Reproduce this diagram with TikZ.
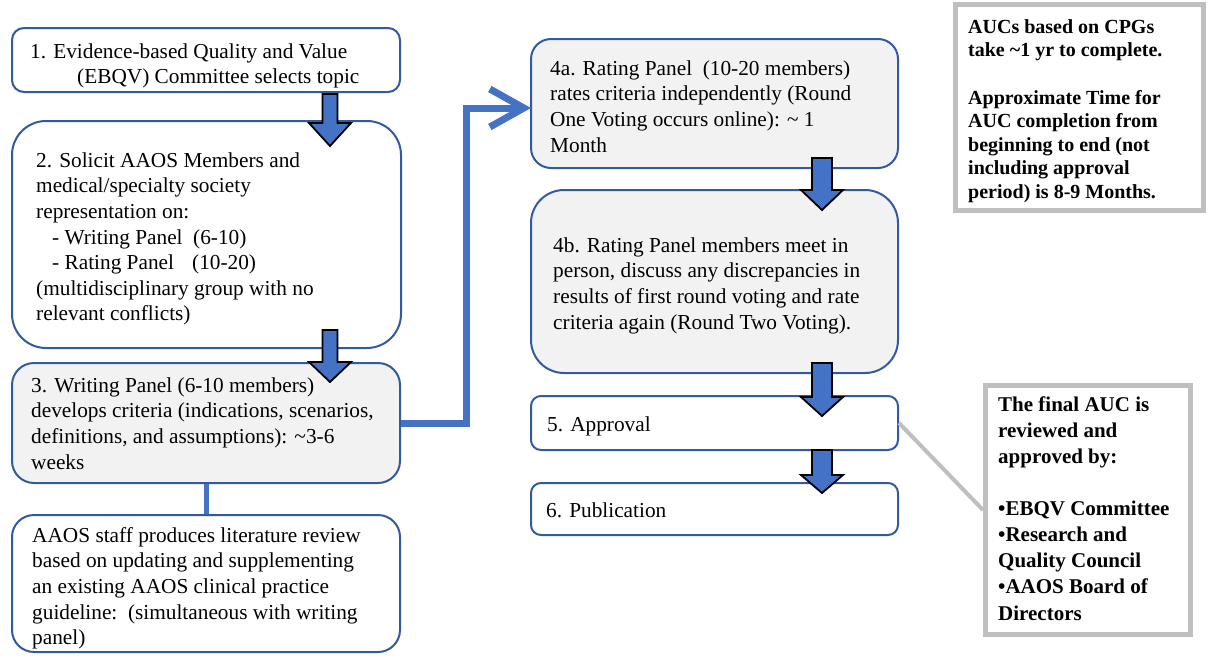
\documentclass[tikz,border=0pt]{standalone}
\usepackage{fontspec}
\setmainfont{LiberationSerif}[Extension=.ttf, UprightFont=*-Regular, BoldFont=*-Bold, ItalicFont=*-Italic, BoldItalicFont=*-BoldItalic]
\usetikzlibrary{arrows.meta}
\definecolor{boxblue}{RGB}{52,90,158}
\definecolor{lineblue}{RGB}{68,114,196}
\definecolor{boxgray}{RGB}{242,242,242}
\definecolor{notegray}{RGB}{191,191,191}
\newcommand\blkarrow[6]{\draw[barrow] ({#1-#5},#2) -- ({#1+#5},#2) -- ({#1+#5},#3) -- ({#1+#6},#3) -- (#1,#4) -- ({#1-#6},#3) -- ({#1-#5},#3) -- cycle;}
\newcommand\st{\rule{0pt}{16pt}}
\begin{document}
\begin{tikzpicture}[x=1pt,y=-1pt,
  stepbox/.style={draw=boxblue, line width=2pt, inner sep=0pt, fill=white},
  graybox/.style={stepbox, fill=boxgray},
  notebox/.style={draw=notegray, line width=5pt, inner sep=0pt, fill=white},
  txt/.style={anchor=north west, inner sep=0pt, align=left, font=\rmfamily\fontsize{21.3}{25.6}\selectfont},
  notetxtA/.style={anchor=north west, inner sep=0pt, align=left, font=\rmfamily\fontsize{20}{23.6}\selectfont\bfseries},
  notetxtB/.style={anchor=north west, inner sep=0pt, align=left, font=\rmfamily\fontsize{21}{26.1}\selectfont\bfseries},
  barrow/.style={fill=lineblue, draw=black, line width=1.8pt, line join=miter},
  elbow/.style={draw=lineblue, line width=7pt, line join=miter, -{Straight Barb[length=34pt,width=38pt,line join=miter]}},
  link/.style={draw=lineblue, line width=5pt},
  callout/.style={draw=notegray, line width=4pt}]
\useasboundingbox (0,0) rectangle (1211,662);

% left column boxes
\node[stepbox, rounded corners=12pt, minimum width=388pt, minimum height=64pt] (box1) at (206,60) {};
\node[stepbox, rounded corners=34pt, minimum width=389pt, minimum height=227pt] (box2) at (206.5,234.5) {};
\node[graybox, rounded corners=22pt, minimum width=388pt, minimum height=120pt] (box3) at (206,423) {};
\node[stepbox, rounded corners=22pt, minimum width=388pt, minimum height=137pt] (lit) at (206,583.5) {};

% right column boxes
\node[graybox, rounded corners=20pt, minimum width=367pt, minimum height=129pt] (box4a) at (714.5,103.5) {};
\node[graybox, rounded corners=33pt, minimum width=367pt, minimum height=183pt] (box4b) at (714.5,281.5) {};
\node[stepbox, rounded corners=10pt, minimum width=367pt, minimum height=54pt] (box5) at (714.5,423) {};
\node[stepbox, rounded corners=10pt, minimum width=367pt, minimum height=52pt] (box6) at (714.5,509) {};

% note boxes
\node[notebox, minimum width=248pt, minimum height=206pt] (noteA) at (1079.5,107.5) {};
\node[notebox, minimum width=205pt, minimum height=249pt] (noteB) at (1088,510) {};

% texts
\node[txt] (t1) at (30,42) {\st 1. Evidence-based Quality and Value\\\hspace*{47pt}(EBQV) Committee selects topic};
\node[txt] (t2) at (36,151) {\st 2. Solicit AAOS Members and\\medical/specialty society\\representation on:\\\hspace*{16pt}\makebox[141pt][l]{- Writing Panel}(6-10)\\\hspace*{16pt}\makebox[140pt][l]{- Rating Panel}(10-20)\\(multidisciplinary group with no\\relevant conflicts)};
\node[txt] (t3) at (31,376) {\st 3. Writing Panel (6-10 members)\\develops criteria (indications, scenarios,\\definitions, and assumptions): \textasciitilde3-6\\weeks};
\node[txt] (tlit) at (32,526) {\st AAOS staff produces literature review\\based on updating and supplementing\\an existing AAOS clinical practice\\guideline:\ \ (simultaneous with writing\\panel)};
\node[txt] (t4a) at (550,59) {\st 4a. Rating Panel\ \ (10-20 members)\\rates criteria independently (Round\\One Voting occurs online): \textasciitilde\ 1\\Month};
\node[txt] (t4b) at (553,236) {\st 4b. Rating Panel members meet in\\person, discuss any discrepancies in\\results of first round voting and rate\\criteria again (Round Two Voting).};
\node[txt] (t5) at (547,415) {\st 5. Approval};
\node[txt] (t6) at (546,501) {\st 6. Publication};
\node[notetxtA] (tA) at (968,17) {\st AUCs based on CPGs\\take \textasciitilde1 yr to complete.\\[23.6pt]Approximate Time for\\AUC completion from\\beginning to end (not\\including approval\\period) is 8-9 Months.};
\node[notetxtB] (tB) at (998,395) {\st The final AUC is\\reviewed and\\approved by:\\[26.1pt]\textbullet EBQV Committee\\\textbullet Research and\\Quality Council\\\textbullet AAOS Board of\\Directors};

% connectors
\draw[link] (box3.south) -- (lit.north);
\coordinate (in4a) at (531,108);
\draw[elbow] (box3.east) -- (466,423) -- (466,108) -- (in4a);
\draw[callout] (box5.east) -- (noteB.west);

% block arrows
\blkarrow{330}{94}{123}{146}{7.5}{21}
\blkarrow{330}{330}{362}{382}{7.5}{21}
\blkarrow{822}{158}{190}{210}{10}{21}
\blkarrow{822}{363}{397}{416}{10}{21}
\blkarrow{822}{450}{475}{493}{10}{21}
\end{tikzpicture}
\end{document}
